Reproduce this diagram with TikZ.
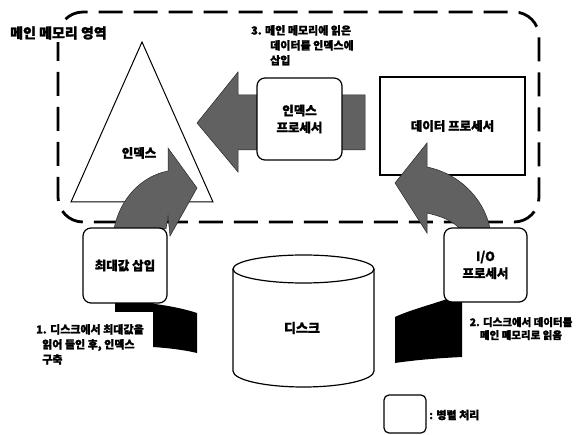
\documentclass[tikz,border=0pt]{standalone}
\usepackage{fontspec}
\newfontfamily\kr{Noto Sans CJK KR}[BoldFeatures={FakeBold=1.5}]
\definecolor{arrowgray}{gray}{0.38}
\begin{document}
\begin{tikzpicture}[x=1pt,y=-1pt,
  font=\kr\bfseries,
  frame/.style={line width=2.8pt, dash pattern=on 24pt off 11pt, rounded corners=25pt},
  rbox/.style={draw, line width=1.2pt, rounded corners=8pt, fill=white, inner sep=0pt, align=center,
    font=\kr\bfseries\fontsize{12.5}{17}\selectfont},
  garrow/.style={fill=arrowgray, draw=black!85, line width=0.5pt},
  band/.style={fill=black},
  lbl/.style={inner sep=0pt, font=\kr\bfseries\fontsize{11}{15}\selectfont}]
\useasboundingbox (0,0) rectangle (578,435);

% main memory frame
\draw[frame] (58,12) rectangle (539,222);
\node[fill=white, inner sep=2pt, anchor=west, font=\kr\bfseries\fontsize{14}{16}\selectfont] (title) at (8,33) {메인 메모리 영역};

% index triangle
\draw[line width=1pt, fill=white] (142,42) -- (213,202) -- (71,202) -- cycle;
\node[font=\kr\bfseries\fontsize{12.5}{15}\selectfont] (idxlabel) at (139,153) {인덱스};

% data processor
\node[draw, line width=1.2pt, fill=white, minimum width=145pt, minimum height=98pt,
  font=\kr\bfseries\fontsize{12.5}{15}\selectfont] (dataproc) at (452.5,126) {데이터 프로세서};

% big left arrow behind index processor
\path[garrow] (197,123) -- (238,72) -- (238,95) -- (365,95) -- (365,150) -- (238,150) -- (238,172) -- cycle;
\node[rbox, minimum width=85pt, minimum height=82pt] (idxproc) at (299.5,119) {인덱스\\프로세서};

% step 3 label
\node[lbl, anchor=north west, align=left] (l3) at (251,25) {3. 메인 메모리에 읽은\\\hspace*{19pt}데이터를 인덱스에\\\hspace*{19pt}삽입};

% curved arrows
\path[garrow] (114,229) .. controls (120,198) and (142,176) .. (168,171) -- (168,148) -- (197,188) -- (170,236) -- (168,216) -- (166,229) -- cycle;
\path[garrow] (490,229) .. controls (486,205) and (465,175) .. (427,167) -- (427,143) -- (395,183) -- (427,233) -- (427,213) .. controls (440,216) and (452,220) .. (460,229) -- cycle;

% black bands below boxes
\path[band] (115,298) -- (115,312) -- (153,312) -- (153,347) .. controls (168,348) and (185,350) .. (197,353) -- (197,313) .. controls (185,309) and (170,306) .. (155,304) -- (140,298) -- cycle;
\path[band] (395,317) .. controls (410,310) and (430,305) .. (450,298) -- (462,298) -- (462,357) .. controls (440,358) and (415,360) .. (395,363) -- cycle;

% bottom boxes
\node[rbox, minimum width=84pt, minimum height=75pt] (maxins) at (125,265.5) {최대값 삽입};
\node[rbox, minimum width=83pt, minimum height=74pt] (ioproc) at (485.5,265) {I/O\\프로세서};

% disk
\draw[line width=1.2pt] (233,269) -- (233,371) arc[start angle=180, end angle=0, x radius=70.5, y radius=16] -- (374,269);
\draw[line width=1.2pt] (303.5,269) ellipse [x radius=70.5, y radius=14];
\node[font=\kr\bfseries\fontsize{13}{15}\selectfont] (disk) at (302,328) {디스크};

% step labels
\node[lbl, anchor=north west, align=left] (l1) at (36,324) {1. 디스크에서 최대값을\\\hspace*{6pt}읽어 들인 후, 인덱스\\\hspace*{6pt}구축};
\node[lbl, anchor=north, align=center, font=\kr\bfseries\fontsize{10.5}{13}\selectfont] (l2) at (521,317) {2. 디스크에서 데이터를\\메인 메모리로 읽음};

% legend
\node[draw, line width=1.2pt, rounded corners=5pt, minimum width=42pt, minimum height=38pt, inner sep=0pt] (legend) at (405,414) {};
\node[lbl, anchor=west] (legtext) at (429,415) {: 병렬 처리};
\end{tikzpicture}
\end{document}
